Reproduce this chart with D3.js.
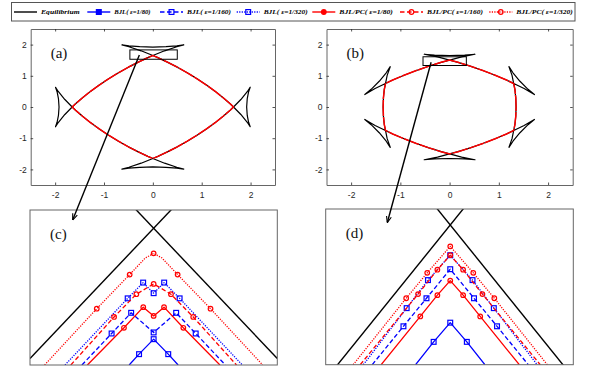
<!DOCTYPE html>
<html>
<head>
<meta charset="utf-8">
<script src="https://cdn.jsdelivr.net/npm/d3@7"></script>
<style>
body{margin:0;background:#fff;}
svg{display:block;}
</style>
</head>
<body>
<script>
var w = 599;
var h = 382;

// ---- data ----
var tickVals = [-2, -1, 0, 1, 2];
var legendNames = ["Equilibrium", "BJL( \u03b5=1/80)", "BJL( \u03b5=1/160)", "BJL( \u03b5=1/320)",
	"BJL/PC( \u03b5=1/80)", "BJL/PC( \u03b5=1/160)", "BJL/PC( \u03b5=1/320)"];
var legendKeys = ["eq", "bjl80", "bjl160", "bjl320", "pc80", "pc160", "pc320"];
var panelLabels = ["(a)", "(b)", "(c)", "(d)"];

// (a) equilibrium shape, 4-fold, traced once round
var eqA = [
	[1.92,0],[1.932,-0.27],[1.96,-0.49],[1.992,-0.633],[1.932,-0.49],[1.801,-0.24],[1.651,0],[1.582,0.103],[1.439,0.297],[1.277,0.5],[1.097,0.704],
	[0.905,0.905],[0.704,1.097],[0.5,1.277],[0.297,1.439],[0.103,1.582],[0,1.651],[-0.24,1.801],[-0.49,1.932],[-0.633,1.992],[-0.49,1.96],[-0.27,1.932],
	[0,1.92],[0.27,1.932],[0.49,1.96],[0.633,1.992],[0.49,1.932],[0.24,1.801],[0,1.651],[-0.103,1.582],[-0.297,1.439],[-0.5,1.277],[-0.704,1.097],
	[-0.905,0.905],[-1.097,0.704],[-1.277,0.5],[-1.439,0.297],[-1.582,0.103],[-1.651,0],[-1.801,-0.24],[-1.932,-0.49],[-1.992,-0.633],[-1.96,-0.49],[-1.932,-0.27],
	[-1.92,0],[-1.932,0.27],[-1.96,0.49],[-1.992,0.633],[-1.932,0.49],[-1.801,0.24],[-1.651,0],[-1.582,-0.103],[-1.439,-0.297],[-1.277,-0.5],[-1.097,-0.704],
	[-0.905,-0.905],[-0.704,-1.097],[-0.5,-1.277],[-0.297,-1.439],[-0.103,-1.582],[0,-1.651],[0.24,-1.801],[0.49,-1.932],[0.633,-1.992],[0.49,-1.96],[0.27,-1.932],
	[0,-1.92],[-0.27,-1.932],[-0.49,-1.96],[-0.633,-1.992],[-0.49,-1.932],[-0.24,-1.801],[0,-1.651],[0.103,-1.582],[0.297,-1.439],[0.5,-1.277],[0.704,-1.097],
	[0.905,-0.905],[1.097,-0.704],[1.277,-0.5],[1.439,-0.297],[1.582,-0.103],[1.651,0],[1.801,0.24],[1.932,0.49],[1.992,0.633],[1.96,0.49],[1.932,0.27]
];
// (a) computed shapes (all runs overlap)
var lensA = [
	[1.651,0],[1.582,0.103],[1.439,0.297],[1.277,0.5],[1.097,0.704],[0.905,0.905],[0.704,1.097],[0.5,1.277],[0.297,1.439],[0.103,1.582],
	[0,1.651],[-0.103,1.582],[-0.297,1.439],[-0.5,1.277],[-0.704,1.097],[-0.905,0.905],[-1.097,0.704],[-1.277,0.5],[-1.439,0.297],[-1.582,0.103],
	[-1.651,0],[-1.582,-0.103],[-1.439,-0.297],[-1.277,-0.5],[-1.097,-0.704],[-0.905,-0.905],[-0.704,-1.097],[-0.5,-1.277],[-0.297,-1.439],[-0.103,-1.582],
	[0,-1.651],[0.103,-1.582],[0.297,-1.439],[0.5,-1.277],[0.704,-1.097],[0.905,-0.905],[1.097,-0.704],[1.277,-0.5],[1.439,-0.297],[1.582,-0.103]
];
var boxA = [[-0.47,1.53],[0.5,1.83]];

// (b) equilibrium shape, 6-fold
var eqB = [
	[0.675,1.169],[0.419,1.31],[0.171,1.432],[0,1.503],[-0.245,1.606],[-0.516,1.691],[-0.306,1.663],[0,1.65],[0.306,1.663],[0.516,1.691],[0.245,1.606],[0,1.503],[-0.171,1.432],[-0.419,1.31],
	[-0.675,1.169],[-0.925,1.018],[-1.155,0.864],[-1.302,0.752],[-1.513,0.591],[-1.722,0.399],[-1.593,0.567],[-1.429,0.825],[-1.287,1.097],[-1.206,1.292],[-1.268,1.015],[-1.302,0.752],[-1.326,0.568],[-1.344,0.292],
	[-1.35,0],[-1.344,-0.292],[-1.326,-0.568],[-1.302,-0.752],[-1.268,-1.015],[-1.206,-1.292],[-1.287,-1.097],[-1.429,-0.825],[-1.593,-0.567],[-1.722,-0.399],[-1.513,-0.591],[-1.302,-0.752],[-1.155,-0.864],[-0.925,-1.018],
	[-0.675,-1.169],[-0.419,-1.31],[-0.171,-1.432],[0,-1.503],[0.245,-1.606],[0.516,-1.691],[0.306,-1.663],[0,-1.65],[-0.306,-1.663],[-0.516,-1.691],[-0.245,-1.606],[0,-1.503],[0.171,-1.432],[0.419,-1.31],
	[0.675,-1.169],[0.925,-1.018],[1.155,-0.864],[1.302,-0.752],[1.513,-0.591],[1.722,-0.399],[1.593,-0.567],[1.429,-0.825],[1.287,-1.097],[1.206,-1.292],[1.268,-1.015],[1.302,-0.752],[1.326,-0.568],[1.344,-0.292],
	[1.35,0],[1.344,0.292],[1.326,0.568],[1.302,0.752],[1.268,1.015],[1.206,1.292],[1.287,1.097],[1.429,0.825],[1.593,0.567],[1.722,0.399],[1.513,0.591],[1.302,0.752],[1.155,0.864],[0.925,1.018]
];
var lensB = [
	[0,1.503],[-0.171,1.432],[-0.419,1.31],[-0.675,1.169],[-0.925,1.018],[-1.155,0.864],[-1.302,0.752],[-1.326,0.568],[-1.344,0.292],
	[-1.35,0],[-1.344,-0.292],[-1.326,-0.568],[-1.302,-0.752],[-1.155,-0.864],[-0.925,-1.018],[-0.675,-1.169],[-0.419,-1.31],[-0.171,-1.432],
	[0,-1.503],[0.171,-1.432],[0.419,-1.31],[0.675,-1.169],[0.925,-1.018],[1.155,-0.864],[1.302,-0.752],[1.326,-0.568],[1.344,-0.292],
	[1.35,0],[1.344,0.292],[1.326,0.568],[1.302,0.752],[1.155,0.864],[0.925,1.018],[0.675,1.169],[0.419,1.31],[0.171,1.432]
];
var boxB = [[-0.54,1.33],[0.34,1.61]];

// (c) zoom of the top corner of (a)
var eqC = [[[-0.5,1.4626],[0.08,1.755]], [[0.5,1.4626],[-0.08,1.755]]];
var cBjl80 = [[-0.099,1.45],[-0.059,1.471],[0,1.5],[0.059,1.471],[0.099,1.45]];
var cBjl80Mk = [[-0.059,1.471],[0,1.5],[0.059,1.471]];
var cBjl160 = [[-0.29,1.45],[-0.17,1.511],[-0.091,1.551],[0,1.513],[0.091,1.551],[0.17,1.511],[0.29,1.45]];
var cBjl160Mk = [[-0.17,1.511],[-0.091,1.551],[0,1.513],[0.091,1.551],[0.17,1.511]];
var cBjl320 = [[-0.3585,1.45],[-0.105,1.579],[-0.0425,1.6095],[0,1.589],[0.0425,1.6095],[0.105,1.579],[0.3585,1.45]];
var cBjl320Mk = [[-0.105,1.579],[-0.0425,1.6095],[0,1.589],[0.0425,1.6095],[0.105,1.579]];
var cPc80 = [[-0.268,1.45],[-0.12,1.522],[-0.042,1.562],[0,1.545],[0.042,1.562],[0.12,1.522],[0.268,1.45]];
var cPc80Mk = [[-0.12,1.522],[-0.042,1.562],[0,1.545],[0.042,1.562],[0.12,1.522]];
var cPc160 = [[-0.335,1.45],[-0.16,1.543],[-0.07,1.587],[0,1.607],[0.07,1.587],[0.16,1.543],[0.335,1.45]];
var cPc160Mk = [[-0.16,1.543],[-0.07,1.587],[0,1.607],[0.07,1.587],[0.16,1.543]];
var cPc320 = [[-0.441,1.45],[-0.23,1.559],[-0.097,1.625],[-0.034,1.657],[0,1.666],[0.034,1.657],[0.097,1.625],[0.23,1.559],[0.441,1.45]];
var cPc320Mk = [[-0.23,1.559],[-0.097,1.625],[0,1.666],[0.097,1.625],[0.23,1.559]];

// (d) zoom of the top corner of (b)
var eqD = [[[-0.5,1.2734],[0.06,1.6047]], [[0.5,1.2734],[-0.06,1.6047]]];
var dBjl80 = [[-0.14,1.3],[-0.067,1.344],[0,1.381],[0.067,1.344],[0.14,1.3]];
var dBjl80Mk = [[-0.067,1.344],[0,1.381],[0.067,1.344]];
var dBjl160 = [[-0.315,1.3],[-0.189,1.374],[-0.096,1.428],[0,1.484],[0.096,1.428],[0.189,1.374],[0.315,1.3]];
var dBjl160Mk = [[-0.189,1.374],[-0.096,1.428],[0,1.484],[0.096,1.428],[0.189,1.374]];
var dBjl320 = [[-0.351,1.3],[-0.176,1.409],[-0.09,1.463],[0,1.511],[0.09,1.463],[0.176,1.409],[0.351,1.3]];
var dBjl320Mk = [[-0.176,1.409],[-0.09,1.463],[0,1.511],[0.09,1.463],[0.176,1.409]];
var dPc80 = [[-0.279,1.3],[-0.121,1.393],[-0.052,1.434],[0,1.462],[0.052,1.434],[0.121,1.393],[0.279,1.3]];
var dPc80Mk = [[-0.121,1.393],[-0.052,1.434],[0,1.462],[0.052,1.434],[0.121,1.393]];
var dPc160 = [[-0.3635,1.3],[-0.13,1.436],[-0.052,1.483],[0,1.511],[0.052,1.483],[0.13,1.436],[0.3635,1.3]];
var dPc160Mk = [[-0.13,1.436],[-0.052,1.483],[0,1.511],[0.052,1.483],[0.13,1.436]];
var dPc320 = [[-0.392,1.3],[-0.178,1.428],[-0.093,1.477],[0,1.528],[0.093,1.477],[0.178,1.428],[0.392,1.3]];
var dPc320Mk = [[-0.178,1.428],[-0.093,1.477],[0,1.528],[0.093,1.477],[0.178,1.428]];

// arrows: start in the overview panel, end in the zoom panel
var arrowAC = [[-0.276,1.667],[-0.3275,1.7306]];
var arrowBD = [[-0.3755,1.433],[-0.2544,1.5736]];

// ---- styles ----
var styles = {
	eq:     {color:"#000000", dash:null,         mark:null},
	bjl80:  {color:"#0000ff", dash:null,         mark:"sq"},
	bjl160: {color:"#0000ff", dash:"4.5,2.5",    mark:"sq"},
	bjl320: {color:"#0000ff", dash:"1.2,1.3",    mark:"sq"},
	pc80:   {color:"#ff0000", dash:null,         mark:"o"},
	pc160:  {color:"#ff0000", dash:"4.5,2.5",    mark:"o"},
	pc320:  {color:"#ff0000", dash:"1.2,1.3",    mark:"o"}
};
var axisColor = "#262626";
var boxColor = "#666666";

var svg = d3.select("body")
	.append("svg")
	.attr("width", w)
	.attr("height", h);

var defs = svg.append("defs");
defs.append("marker")
	.attr("id", "head")
	.attr("markerUnits", "userSpaceOnUse")
	.attr("viewBox", "0 0 10 10")
	.attr("refX", 10).attr("refY", 5)
	.attr("markerWidth", 7).attr("markerHeight", 7)
	.attr("orient", "auto")
	.append("path")
	.attr("d", "M1,1.5 L10,5 L1,8.5")
	.attr("fill", "none")
	.attr("stroke", "#000")
	.attr("stroke-width", 1.6);

function makePanel(id, xd, yd, xr, yr){
	var p = {
		id: id,
		x: d3.scaleLinear().domain(xd).range(xr),
		y: d3.scaleLinear().domain(yd).range(yr)
	};
	defs.append("clipPath").attr("id", "clip" + id)
		.append("rect")
		.attr("x", xr[0]).attr("y", yr[1])
		.attr("width", xr[1] - xr[0]).attr("height", yr[0] - yr[1]);
	p.g = svg.append("g");
	p.plot = p.g.append("g").attr("clip-path", "url(#clip" + id + ")");
	p.line = d3.line().x(function(d){ return p.x(d[0]); }).y(function(d){ return p.y(d[1]); });
	return p;
}

var pa = makePanel("a", [-2.5, 2.5], [-2.5, 2.5], [30.7, 275], [185, 29]);
var pb = makePanel("b", [-2.5, 2.5], [-2.5, 2.5], [326.5, 572.7], [185, 29]);
var pc = makePanel("c", [-0.5, 0.5], [1.45, 1.75], [30, 277.3], [365, 210]);
var pd = makePanel("d", [-0.503, 0.497], [1.3, 1.6], [325.7, 573.3], [364.7, 209]);

function tickedAxes(p){
	var x0 = p.x.range()[0], x1 = p.x.range()[1];
	var y0 = p.y.range()[0], y1 = p.y.range()[1];
	var sides = [
		[d3.axisBottom(p.x), "translate(0," + y0 + ")", 7, true],
		[d3.axisTop(p.x), "translate(0," + y1 + ")", 4, false],
		[d3.axisLeft(p.y), "translate(" + x0 + ",0)", 4, true],
		[d3.axisRight(p.y), "translate(" + x1 + ",0)", 4, false]
	];
	sides.forEach(function(a){
		var ax = a[0].tickValues(tickVals).tickSizeInner(-2.5).tickSizeOuter(0).tickPadding(a[2])
			.tickFormat(a[3] ? function(d){ return String(d); } : "");
		var g = p.g.append("g").attr("transform", a[1]).call(ax);
		g.select(".domain").attr("stroke", boxColor).attr("stroke-width", 1);
		g.selectAll(".tick line").attr("stroke", axisColor).attr("stroke-width", 0.8);
		g.selectAll(".tick text")
			.attr("fill", axisColor)
			.style("font-family", "'Liberation Sans', Arial, sans-serif")
			.style("font-size", "8.5px");
	});
}

function plainBox(p){
	var x0 = p.x.range()[0], x1 = p.x.range()[1];
	var y0 = p.y.range()[0], y1 = p.y.range()[1];
	p.g.append("rect")
		.attr("x", x0).attr("y", y1)
		.attr("width", x1 - x0).attr("height", y0 - y1)
		.attr("fill", "none")
		.attr("stroke", boxColor)
		.attr("stroke-width", 1);
}

function drawPath(p, pts, key, closed, width){
	var st = styles[key];
	var gen = p.line.curve(closed ? d3.curveLinearClosed : d3.curveLinear);
	p.plot.append("path")
		.attr("d", gen(pts))
		.attr("fill", "none")
		.attr("stroke", st.color)
		.attr("stroke-width", width)
		.attr("stroke-linejoin", "round")
		.attr("stroke-dasharray", st.dash);
}

function drawMarks(p, pts, key){
	var st = styles[key];
	var g = p.plot.append("g");
	if(st.mark == "sq"){
		g.selectAll("rect").data(pts).enter().append("rect")
			.attr("x", function(d){ return p.x(d[0]) - 2.4; })
			.attr("y", function(d){ return p.y(d[1]) - 2.4; })
			.attr("width", 4.8).attr("height", 4.8)
			.attr("fill", "none").attr("stroke", st.color).attr("stroke-width", 1.2);
	} else {
		g.selectAll("circle").data(pts).enter().append("circle")
			.attr("cx", function(d){ return p.x(d[0]); })
			.attr("cy", function(d){ return p.y(d[1]); })
			.attr("r", 2.3)
			.attr("fill", "none").attr("stroke", st.color).attr("stroke-width", 1.2);
	}
}

// ---- overview panels ----
[[pa, eqA, lensA, boxA], [pb, eqB, lensB, boxB]].forEach(function(s){
	var p = s[0];
	tickedAxes(p);
	drawPath(p, s[1], "eq", true, 1.2);
	p.plot.append("path")
		.attr("d", p.line.curve(d3.curveLinearClosed)(s[2]))
		.attr("fill", "none")
		.attr("stroke", styles.pc80.color)
		.attr("stroke-width", 1.5)
		.attr("stroke-dasharray", "16,1");
	p.plot.append("rect")
		.attr("x", p.x(s[3][0][0])).attr("y", p.y(s[3][1][1]))
		.attr("width", p.x(s[3][1][0]) - p.x(s[3][0][0]))
		.attr("height", p.y(s[3][0][1]) - p.y(s[3][1][1]))
		.attr("fill", "none").attr("stroke", "#000").attr("stroke-width", 1);
});

// ---- zoom panels ----
var zoomSeries = [
	[pc, eqC, [[cBjl80, cBjl80Mk, "bjl80"], [cBjl160, cBjl160Mk, "bjl160"], [cBjl320, cBjl320Mk, "bjl320"],
		[cPc80, cPc80Mk, "pc80"], [cPc160, cPc160Mk, "pc160"], [cPc320, cPc320Mk, "pc320"]]],
	[pd, eqD, [[dBjl80, dBjl80Mk, "bjl80"], [dBjl160, dBjl160Mk, "bjl160"], [dBjl320, dBjl320Mk, "bjl320"],
		[dPc80, dPc80Mk, "pc80"], [dPc160, dPc160Mk, "pc160"], [dPc320, dPc320Mk, "pc320"]]]
];
zoomSeries.forEach(function(z){
	var p = z[0];
	z[1].forEach(function(seg){ drawPath(p, seg, "eq", false, 1.4); });
	z[2].forEach(function(s){
		drawPath(p, s[0], s[2], false, 1.3);
		drawMarks(p, s[1], s[2]);
	});
	plainBox(p);
});

// panel letters
[pa, pb, pc, pd].forEach(function(p, i){
	p.g.append("text")
		.attr("x", p.x.range()[0] + 20)
		.attr("y", p.y.range()[1] + 29)
		.style("font-family", "'Liberation Serif', 'Times New Roman', serif")
		.style("font-size", "15px")
		.attr("fill", "#111")
		.text(panelLabels[i]);
});

// arrows
[[arrowAC, pa, pc], [arrowBD, pb, pd]].forEach(function(a){
	svg.append("line")
		.attr("x1", a[1].x(a[0][0][0])).attr("y1", a[1].y(a[0][0][1]))
		.attr("x2", a[2].x(a[0][1][0])).attr("y2", a[2].y(a[0][1][1]))
		.attr("stroke", "#000").attr("stroke-width", 1.4)
		.attr("marker-end", "url(#head)");
});

// ---- legend ----
var legendX = [14, 87.3, 160, 236.7, 312.3, 400, 489.3];
var legendW = [38.6, 36.3, 44, 44, 53.6, 56, 56.6];
var lg = svg.append("g");
lg.append("rect")
	.attr("x", 11.5).attr("y", 2.5).attr("width", 563.5).attr("height", 18.5)
	.attr("fill", "#fff").attr("stroke", "#555").attr("stroke-width", 1);
legendKeys.forEach(function(k, i){
	var st = styles[k];
	var x0 = legendX[i];
	var yy = 12;
	lg.append("line")
		.attr("x1", x0).attr("x2", x0 + 23).attr("y1", yy).attr("y2", yy)
		.attr("stroke", st.color).attr("stroke-width", 1.4)
		.attr("stroke-dasharray", st.dash);
	if(st.mark == "sq"){
		lg.append("rect").attr("x", x0 + 11.5 - 2.4).attr("y", yy - 2.4).attr("width", 4.8).attr("height", 4.8)
			.attr("fill", k == "bjl80" ? st.color : "none").attr("stroke", st.color).attr("stroke-width", 1.2);
	} else if(st.mark == "o"){
		lg.append("circle").attr("cx", x0 + 11.5).attr("cy", yy).attr("r", 2.3)
			.attr("fill", k == "pc80" ? st.color : "none").attr("stroke", st.color).attr("stroke-width", 1.2);
	}
	lg.append("text")
		.attr("x", x0 + 27).attr("y", yy + 2.4)
		.attr("textLength", legendW[i]).attr("lengthAdjust", "spacingAndGlyphs")
		.style("font-family", "'Liberation Serif', 'Times New Roman', serif")
		.style("font-style", "italic").style("font-weight", "bold")
		.style("font-size", "7px")
		.attr("fill", "#000")
		.text(legendNames[i]);
});
</script>
</body>
</html>
